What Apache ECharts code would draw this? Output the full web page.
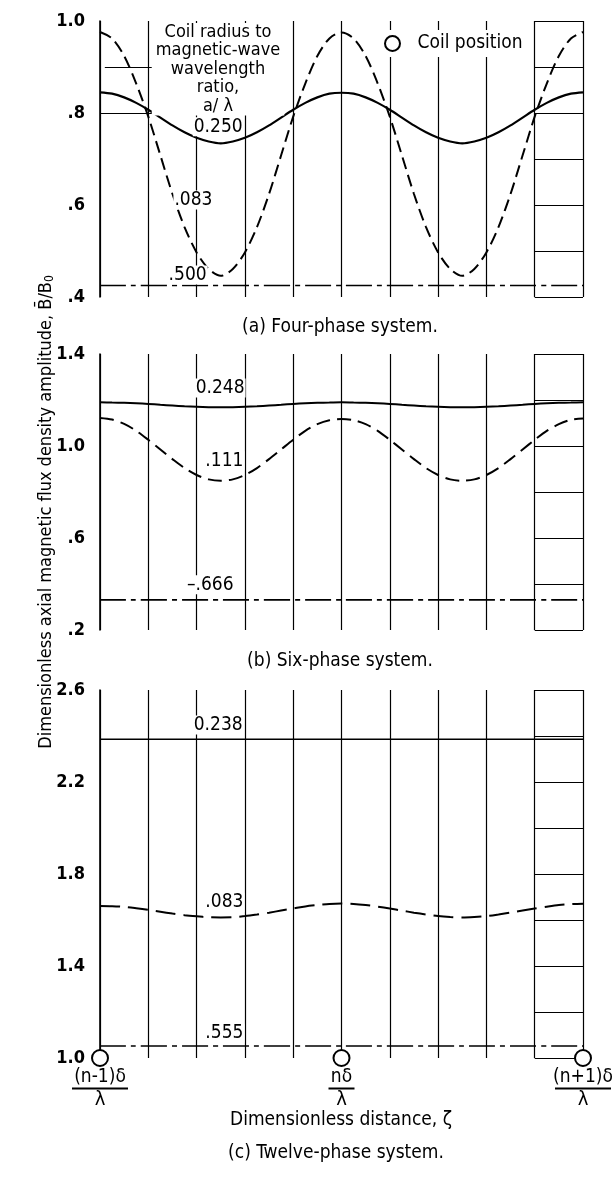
<!DOCTYPE html>
<html>
<head>
<meta charset="utf-8">
<script src="https://cdn.jsdelivr.net/npm/echarts@6/dist/echarts.min.js"></script>
<style>
  html, body { margin: 0; padding: 0; background: #fff; }
  #chart { width: 616px; height: 1179px; }
</style>
</head>
<body>
<div id="chart"></div>
<script>
// Dimensionless distance along the axis, one coil pitch either side of coil n
const zeta = [0, 0.025, 0.05, 0.075, 0.1, 0.125, 0.15, 0.175, 0.2, 0.225, 0.25, 0.275, 0.3, 0.325, 0.35, 0.375, 0.4,
  0.425, 0.45, 0.475, 0.5, 0.525, 0.55, 0.575, 0.6, 0.625, 0.65, 0.675, 0.7, 0.725, 0.75, 0.775, 0.8, 0.825, 0.85,
  0.875, 0.9, 0.925, 0.95, 0.975, 1];
const flatZeta = [0, 0.25, 0.5, 0.75, 1];

// (a) Four-phase system
const fourPhase250 = [0.845, 0.842, 0.834, 0.822, 0.807, 0.790, 0.773, 0.758, 0.746, 0.738, 0.734,
  0.738, 0.746, 0.758, 0.773, 0.790, 0.807, 0.822, 0.834, 0.842, 0.844,
  0.842, 0.834, 0.822, 0.807, 0.790, 0.773, 0.758, 0.746, 0.738, 0.734,
  0.738, 0.746, 0.758, 0.773, 0.790, 0.807, 0.822, 0.834, 0.842, 0.845];
const fourPhase083 = [0.976, 0.962, 0.924, 0.864, 0.792, 0.708, 0.624, 0.552, 0.497, 0.461, 0.446,
  0.461, 0.497, 0.552, 0.624, 0.708, 0.792, 0.864, 0.924, 0.962, 0.975,
  0.962, 0.924, 0.864, 0.792, 0.708, 0.624, 0.552, 0.497, 0.461, 0.446,
  0.461, 0.497, 0.552, 0.624, 0.708, 0.792, 0.864, 0.924, 0.962, 0.976];
const fourPhase500 = [0.425, 0.425, 0.425, 0.425, 0.425];

// (b) Six-phase system
const sixPhase248 = [1.190, 1.189, 1.188, 1.186, 1.183, 1.179, 1.176, 1.173, 1.171, 1.169, 1.168,
  1.169, 1.171, 1.173, 1.176, 1.179, 1.183, 1.186, 1.188, 1.189, 1.190,
  1.189, 1.188, 1.186, 1.183, 1.179, 1.176, 1.173, 1.171, 1.169, 1.168,
  1.169, 1.171, 1.173, 1.176, 1.179, 1.183, 1.186, 1.188, 1.189, 1.190];
const sixPhase111 = [1.122, 1.115, 1.096, 1.066, 1.027, 0.985, 0.943, 0.904, 0.874, 0.855, 0.849,
  0.855, 0.874, 0.904, 0.943, 0.985, 1.027, 1.066, 1.095, 1.112, 1.117,
  1.112, 1.095, 1.066, 1.027, 0.985, 0.943, 0.904, 0.874, 0.855, 0.849,
  0.855, 0.874, 0.904, 0.943, 0.985, 1.027, 1.066, 1.095, 1.114, 1.120];
const sixPhase666 = [0.331, 0.331, 0.331, 0.331, 0.331];

// (c) Twelve-phase system
const twelvePhase238 = [2.386, 2.386, 2.386, 2.386, 2.386];
const twelvePhase083 = [1.661, 1.660, 1.657, 1.651, 1.644, 1.636, 1.628, 1.621, 1.616, 1.612, 1.611,
  1.612, 1.617, 1.624, 1.632, 1.641, 1.650, 1.659, 1.665, 1.670, 1.672,
  1.670, 1.665, 1.658, 1.650, 1.641, 1.632, 1.624, 1.617, 1.613, 1.611,
  1.613, 1.617, 1.624, 1.632, 1.641, 1.650, 1.658, 1.665, 1.669, 1.671];
const twelvePhase555 = [1.052, 1.052, 1.052, 1.052, 1.052];

// Coil positions along the axis and their labels
const coilPositions = [0, 0.5, 1];
const coilLabels = ['(n-1)δ', 'nδ', '(n+1)δ'];

// Ordinate tick labels for each panel
const fourPhaseTicks = [1.0, 0.8, 0.6, 0.4];
const fourPhaseTickLabels = ['1.0', '.8', '.6', '.4'];
const sixPhaseTicks = [1.4, 1.0, 0.6, 0.2];
const sixPhaseTickLabels = ['1.4', '1.0', '.6', '.2'];
const twelvePhaseTicks = [2.6, 2.2, 1.8, 1.4, 1.0];
const twelvePhaseTickLabels = ['2.6', '2.2', '1.8', '1.4', '1.0'];

const FONT = "'DejaVu Sans Condensed', 'DejaVu Sans', sans-serif";
const INK = '#000';
const PLOT_LEFT = 100;
const PLOT_WIDTH = 483;

const panels = [
  { top: 21, height: 276, min: 0.4, max: 1.0, step: 0.2, colStep: 0.1, ticks: fourPhaseTicks, labels: fourPhaseTickLabels },
  { top: 354, height: 276, min: 0.2, max: 1.4, step: 0.2, colStep: 0.2, ticks: sixPhaseTicks, labels: sixPhaseTickLabels },
  { top: 690, height: 368, min: 1.0, max: 2.6, step: 0.2, colStep: 0.2, ticks: twelvePhaseTicks, labels: twelvePhaseTickLabels }
];

function pairs(xs, ys) { return xs.map((x, i) => [x, ys[i]]); }
function tickFormatter(ticks, labels) {
  return v => {
    const i = ticks.findIndex(t => Math.abs(t - v) < 1e-6);
    return i < 0 ? '' : labels[i];
  };
}

const grid = [], xAxis = [], yAxis = [];
panels.forEach((p, i) => {
  grid.push({ left: PLOT_LEFT, width: PLOT_WIDTH, top: p.top, height: p.height, containLabel: false });
  xAxis.push({
    type: 'value', gridIndex: i, min: 0, max: 1, interval: 0.1,
    axisLine: { show: false }, axisTick: { show: false },
    splitLine: { show: true, lineStyle: { color: INK, width: 1.2 } },
    axisLabel: i === 2 ? {
      show: true, interval: 0, margin: 10, showMinLabel: true, showMaxLabel: true, hideOverlap: false,
      color: INK, fontFamily: FONT,
      formatter: v => {
        const k = coilPositions.findIndex(c => Math.abs(c - v) < 1e-6);
        if (k < 0) return '';
        const bar = coilLabels[k].length > 3 ? 'barWide' : 'barNarrow';
        return '{num|' + coilLabels[k] + '}\n{' + bar + '|\u00a0}\n{den|λ}';
      },
      rich: {
        num: { fontSize: 19, fontFamily: FONT, color: INK, lineHeight: 19, align: 'center' },
        barWide: { width: 56, height: 2, lineHeight: 3, fontSize: 2, backgroundColor: INK, align: 'center' },
        barNarrow: { width: 26, height: 2, lineHeight: 3, fontSize: 2, backgroundColor: INK, align: 'center' },
        den: { fontSize: 20, fontFamily: FONT, color: INK, lineHeight: 20, align: 'center' }
      }
    } : { show: false }
  });
  yAxis.push({
    type: 'value', gridIndex: i, min: p.min, max: p.max, interval: p.step,
    axisLine: { show: true, lineStyle: { color: INK, width: 1.6 } },
    axisTick: { show: false },
    splitLine: { show: false },
    axisLabel: {
      show: true, margin: 15, color: INK, fontFamily: FONT, fontWeight: 'bold', fontSize: 18,
      showMinLabel: true, showMaxLabel: true, formatter: tickFormatter(p.ticks, p.labels)
    }
  });
});
// Ruled last column of each panel
panels.forEach((p, i) => {
  grid.push({ left: PLOT_LEFT + PLOT_WIDTH * 0.9, width: PLOT_WIDTH * 0.1, top: p.top, height: p.height });
  xAxis.push({ type: 'value', gridIndex: 3 + i, min: 0.9, max: 1, show: false });
  yAxis.push({
    type: 'value', gridIndex: 3 + i, min: p.min, max: p.max, interval: p.colStep,
    axisLine: { show: false }, axisTick: { show: false }, axisLabel: { show: false },
    splitLine: { show: true, lineStyle: { color: INK, width: 1.2 } }
  });
});

function curve(panel, xs, ys, type, width) {
  return {
    type: 'line', xAxisIndex: panel, yAxisIndex: panel, data: pairs(xs, ys),
    showSymbol: false, smooth: 0.3, silent: true, z: 5,
    lineStyle: { color: INK, width: width || 2, type: type, opacity: 1 }
  };
}
function curveLabels(panel, items) {
  return {
    type: 'scatter', xAxisIndex: panel, yAxisIndex: panel, symbolSize: 0, silent: true, z: 6,
    data: items, itemStyle: { opacity: 1 },
    label: {
      show: true, position: 'right', distance: 0, formatter: d => d.value[2], opacity: 1,
      color: INK, fontFamily: FONT, fontSize: 19, backgroundColor: '#fff', padding: [0, 1]
    }
  };
}

const DASH = [12, 6];
const DASH_DOT = [26, 5, 5, 5];

const series = [
  Object.assign(curve(0, zeta, fourPhase250, 'solid', 2.2), {
    markLine: {
      silent: true, symbol: 'none', label: { show: false },
      lineStyle: { color: INK, width: 1.2, type: 'solid' },
      data: [
        [{ coord: [0.01, 0.9] }, { coord: [0.115, 0.9] }],
        [{ coord: [0, 0.8] }, { coord: [0.108, 0.8] }]
      ]
    }
  }),
  curve(0, zeta, fourPhase083, DASH),
  curve(0, flatZeta, fourPhase500, DASH_DOT, 1.6),
  curveLabels(0, [[0.192, 0.770, '0.250'], [0.152, 0.611, '.083'], [0.14, 0.448, '.500']]),

  curve(1, zeta, sixPhase248, 'solid', 2),
  curve(1, zeta, sixPhase111, [14, 7]),
  curve(1, flatZeta, sixPhase666, DASH_DOT, 1.6),
  curveLabels(1, [[0.196, 1.252, '0.248'], [0.216, 0.936, '.111'], [0.178, 0.397, '\u2013.666']]),

  curve(2, flatZeta, twelvePhase238, 'solid', 1.4),
  curve(2, zeta, twelvePhase083, [20, 8]),
  curve(2, flatZeta, twelvePhase555, DASH_DOT, 1.6),
  curveLabels(2, [[0.192, 2.448, '0.238'], [0.216, 1.676, '.083'], [0.216, 1.108, '.555']]),

  {
    name: 'Coil position', type: 'scatter', xAxisIndex: 2, yAxisIndex: 2,
    data: coilPositions.map(c => [c, 1.0]), symbol: 'circle', symbolSize: 16, clip: false, z: 10, silent: true,
    itemStyle: { color: '#fff', borderColor: INK, borderWidth: 2, opacity: 1 }
  }
];

function text(x, y, str, extra) {
  return {
    type: 'text', x: x, y: y, z: 50, silent: true,
    style: Object.assign({
      text: str, fill: INK, fontFamily: FONT, fontSize: 19,
      align: 'center', textAlign: 'center', verticalAlign: 'middle', textVerticalAlign: 'middle'
    }, extra || {})
  };
}

const yTitle = text(46, 512, 'Dimensionless axial magnetic flux density amplitude, B\u0304/B{sub|0}', {
  fontSize: 18,
  rich: { sub: { fontSize: 12, fontFamily: FONT, fill: INK, verticalAlign: 'bottom', padding: [8, 0, 0, 0] } }
});
yTitle.rotation = Math.PI / 2;

const graphic = [
  text(218, 23, 'Coil radius to\nmagnetic-wave\nwavelength\nratio,\na/ λ', {
    fontSize: 18, verticalAlign: 'top', textVerticalAlign: 'top', lineHeight: 18.5,
    backgroundColor: '#fff', padding: [0, 4]
  }),
  text(340, 327, '(a) Four-phase system.'),
  text(340, 661, '(b) Six-phase system.'),
  text(341, 1120, 'Dimensionless distance, ζ'),
  text(336, 1153, '(c) Twelve-phase system.'),
  yTitle
];

const chart = echarts.init(document.getElementById('chart'), null, { renderer: 'canvas' });
chart.setOption({
  animation: false,
  backgroundColor: '#fff',
  textStyle: { fontFamily: FONT },
  legend: {
    data: [{ name: 'Coil position', icon: 'circle', itemStyle: { color: '#fff', borderColor: INK, borderWidth: 2, opacity: 1 } }],
    left: 378, top: 30, itemWidth: 40, itemHeight: 15, padding: [4, 6], backgroundColor: '#fff',
    selectedMode: false, z: 20,
    textStyle: { fontSize: 19, fontFamily: FONT, color: INK }
  },
  grid: grid,
  xAxis: xAxis,
  yAxis: yAxis,
  series: series,
  graphic: graphic
});
</script>
</body>
</html>
